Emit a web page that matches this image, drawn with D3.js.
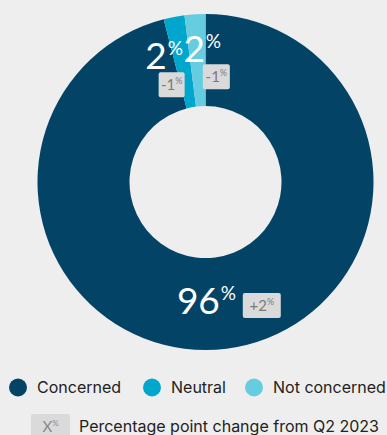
<!DOCTYPE html>
<html>
<head>
<meta charset="utf-8">
<script src="https://cdn.jsdelivr.net/npm/d3@7"></script>
<style>
  html, body { margin: 0; padding: 0; background: #eeeeee; }
  svg { display: block; }
  text { font-family: Lato, "Noto Sans", sans-serif; }
  .legend-text { font-family: Inter, Lato, sans-serif; }
</style>
</head>
<body>
<svg id="chart" width="387" height="435"></svg>
<script>
// Survey shares (percent) and change since Q2 2023 (percentage points)
const categories = ["Concerned", "Neutral", "Not concerned"];
const values = [96, 2, 2];
const changes = ["+2", "-1", "-1"];
const colors = ["#034466", "#00a6cc", "#66cce0"];
const legendNote = "Percentage point change from Q2 2023";

// Label placement relative to each slice centroid
const labelLayout = [
  { numDx: -1,  numDy: 11, badgeDx: 23,  badgeDy: -21, badgeW: 38 },
  { numDx: -16, numDy: 7,  badgeDx: -8,  badgeDy: 3,   badgeW: 26 },
  { numDx: 7,   numDy: 2,  badgeDx: -2,  badgeDy: 2,   badgeW: 27 }
];

const svg = d3.select("#chart");
const cx = 205.5, cy = 182, outerR = 168, innerR = 76;

const pie = d3.pie().sort(null).value(d => d.value);
const arcs = pie(categories.map((c, i) => ({ cat: c, value: values[i], change: changes[i], i })));
const arc = d3.arc().innerRadius(innerR).outerRadius(outerR);

const g = svg.append("g").attr("transform", `translate(${cx},${cy})`);

g.selectAll("path.slice")
  .data(arcs)
  .join("path")
  .attr("class", "slice")
  .attr("d", arc)
  .attr("fill", d => colors[d.data.i]);

// value labels + change badges
arcs.forEach(d => {
  const [x0, y0] = arc.centroid(d);
  const L = labelLayout[d.data.i];
  const nx = x0 + L.numDx, ny = y0 + L.numDy;

  g.append("text")
    .attr("x", nx).attr("y", ny)
    .attr("text-anchor", "end")
    .attr("fill", "#ffffff")
    .attr("font-size", 37)
    .attr("font-weight", 400)
    .text(d.data.value);
  g.append("text")
    .attr("x", nx + 1).attr("y", ny - 14)
    .attr("fill", "#ffffff")
    .attr("font-size", 19)
    .text("%");

  const bx = nx + L.badgeDx, by = ny + L.badgeDy;
  g.append("rect")
    .attr("x", bx).attr("y", by)
    .attr("width", L.badgeW).attr("height", 25)
    .attr("rx", 2)
    .attr("fill", "#dadada");
  const t = g.append("text")
    .attr("x", bx + L.badgeW / 2).attr("y", by + 18)
    .attr("text-anchor", "middle")
    .attr("fill", "#7a7a7a")
    .attr("font-size", 15);
  t.append("tspan").text(d.data.change);
  t.append("tspan").attr("font-size", 9).attr("dy", -6).text("%");
});

// legend
const legend = svg.append("g");
const legendX = [18, 152, 254];
categories.forEach((c, i) => {
  legend.append("circle")
    .attr("cx", legendX[i]).attr("cy", 387.5).attr("r", 9)
    .attr("fill", colors[i]);
  legend.append("text")
    .attr("class", "legend-text")
    .attr("x", legendX[i] + 19).attr("y", 393)
    .attr("fill", "#222222")
    .attr("font-size", 16)
    .text(c);
});

legend.append("rect")
  .attr("x", 31).attr("y", 414).attr("width", 39).attr("height", 30)
  .attr("rx", 2).attr("fill", "#dadada");
const xt = legend.append("text")
  .attr("x", 50.5).attr("y", 432)
  .attr("text-anchor", "middle")
  .attr("fill", "#8a8a8a")
  .attr("font-size", 15);
xt.append("tspan").text("X");
xt.append("tspan").attr("font-size", 8).attr("dy", -6).text("%");

legend.append("text")
  .attr("class", "legend-text")
  .attr("x", 79).attr("y", 432)
  .attr("fill", "#222222")
  .attr("font-size", 16)
  .text(legendNote);
</script>
</body>
</html>
